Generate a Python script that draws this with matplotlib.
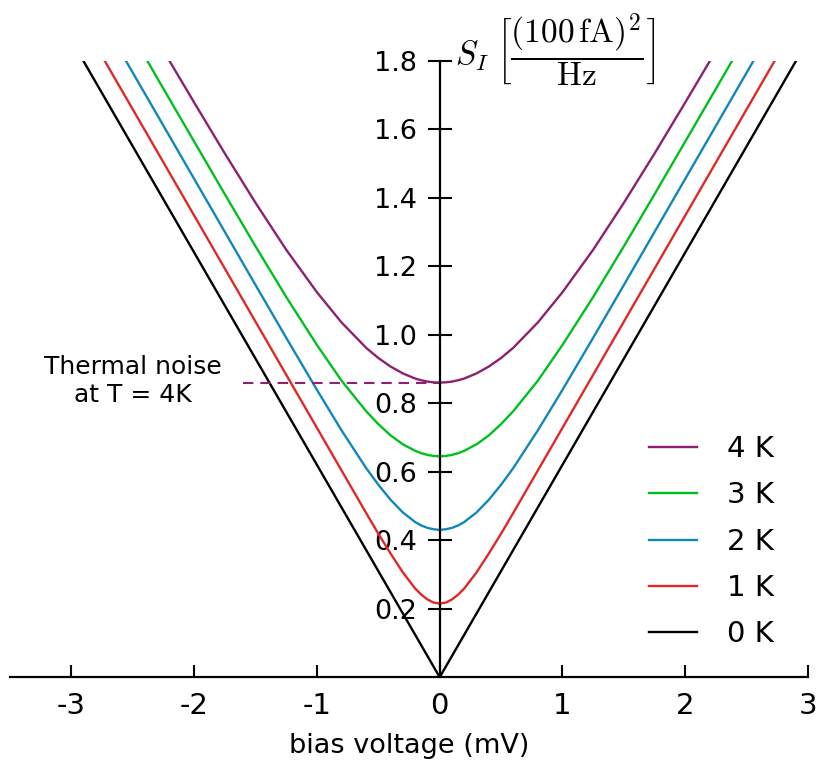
import matplotlib
matplotlib.use('Agg')
import matplotlib.pyplot as plt

# ---- data ----
bias_mv = [-3.0, -2.75, -2.5, -2.25, -2.0, -1.75, -1.5, -1.25, -1.0, -0.8, -0.6, -0.5,
           -0.4, -0.3, -0.2, -0.15, -0.1, -0.05, 0.0, 0.05, 0.1, 0.15, 0.2, 0.3, 0.4,
           0.5, 0.6, 0.8, 1.0, 1.25, 1.5, 1.75, 2.0, 2.25, 2.5, 2.75, 3.0]

s_0k = [1.86, 1.705, 1.55, 1.395, 1.24, 1.085, 0.93, 0.775, 0.62, 0.496, 0.372, 0.31,
        0.248, 0.186, 0.124, 0.093, 0.062, 0.031, 0.0, 0.031, 0.062, 0.093, 0.124, 0.186, 0.248,
        0.31, 0.372, 0.496, 0.62, 0.775, 0.93, 1.085, 1.24, 1.395, 1.55, 1.705, 1.86]

s_1k = [1.968, 1.813, 1.658, 1.503, 1.348, 1.193, 1.038, 0.883, 0.728, 0.604, 0.480, 0.419,
        0.361, 0.306, 0.259, 0.241, 0.227, 0.218, 0.215, 0.218, 0.227, 0.241, 0.259, 0.306, 0.361,
        0.419, 0.480, 0.604, 0.728, 0.883, 1.038, 1.193, 1.348, 1.503, 1.658, 1.813, 1.968]

s_2k = [2.075, 1.920, 1.765, 1.610, 1.455, 1.300, 1.145, 0.991, 0.839, 0.721, 0.611, 0.562,
        0.518, 0.481, 0.453, 0.443, 0.436, 0.432, 0.430, 0.432, 0.436, 0.443, 0.453, 0.481, 0.518,
        0.562, 0.611, 0.721, 0.839, 0.991, 1.145, 1.300, 1.455, 1.610, 1.765, 1.920, 2.075]

s_3k = [2.183, 2.028, 1.873, 1.718, 1.564, 1.410, 1.258, 1.110, 0.970, 0.866, 0.777, 0.739,
        0.706, 0.680, 0.661, 0.654, 0.649, 0.646, 0.645, 0.646, 0.649, 0.654, 0.661, 0.680, 0.706,
        0.739, 0.777, 0.866, 0.970, 1.110, 1.258, 1.410, 1.564, 1.718, 1.873, 2.028, 2.183]

s_4k = [2.290, 2.136, 1.982, 1.829, 1.678, 1.529, 1.385, 1.248, 1.124, 1.036, 0.962, 0.932,
        0.907, 0.887, 0.872, 0.867, 0.863, 0.861, 0.860, 0.861, 0.863, 0.867, 0.872, 0.887, 0.907,
        0.932, 0.962, 1.036, 1.124, 1.248, 1.385, 1.529, 1.678, 1.829, 1.982, 2.136, 2.290]

thermal_4k = 0.86
thermal_x = [-1.6, 0.0]

x_ticks = [-3, -2, -1, 0, 1, 2, 3]
x_tick_labels = ['-3', '-2', '-1', '0', '1', '2', '3']
y_ticks = [0.2, 0.4, 0.6, 0.8, 1.0, 1.2, 1.4, 1.6, 1.8]
y_tick_labels = ['0.2', '0.4', '0.6', '0.8', '1.0', '1.2', '1.4', '1.6', '1.8']

series = [('4 K', s_4k, '#8E2070'),
          ('3 K', s_3k, '#00C020'),
          ('2 K', s_2k, '#1187BC'),
          ('1 K', s_1k, '#E02828'),
          ('0 K', s_0k, '#000000')]

# ---- figure ----
plt.rcParams['font.family'] = ['DejaVu Sans']
plt.rcParams['mathtext.fontset'] = 'cm'

W, H = 818, 767
fig = plt.figure(figsize=(W / 100, H / 100), dpi=100)
ax = fig.add_axes([10 / W, 1 - 677.2 / H, 798 / W, 616.5 / H])

handles = []
for label, vals, col in series:
    ln, = ax.plot(bias_mv, vals, color=col, lw=1.7, label=label, solid_joinstyle='round')
    handles.append(ln)

ax.plot(thermal_x, [thermal_4k, thermal_4k], color='#8E2070', lw=1.5,
        ls=(0, (5, 3.3)))

ax.set_xlim(-3.5, 3.0)
ax.set_ylim(0, 1.8)

for s in ('top', 'right'):
    ax.spines[s].set_visible(False)
ax.spines['left'].set_position(('data', 0))
ax.spines['left'].set_linewidth(1.6)
ax.spines['bottom'].set_linewidth(1.6)

ax.set_xticks(x_ticks)
ax.set_xticklabels(x_tick_labels)
ax.set_yticks(y_ticks)
ax.set_yticklabels(y_tick_labels)
ax.tick_params(axis='x', direction='in', length=8.6, width=1.5, labelsize=21, pad=11)
ax.tick_params(axis='y', direction='inout', length=17.3, width=1.5, labelsize=19.5, pad=7.9)

ax.set_xlabel('bias voltage (mV)', fontsize=19.5, labelpad=9)

fig.text(455 / W, 1 - 50 / H,
         r'$S_I\ \left[\dfrac{(100\,\mathrm{fA})^2}{\mathrm{Hz}}\right]$',
         fontsize=24, ha='left', va='center')

fig.text(133 / W, 1 - 381 / H, 'Thermal noise\nat T = 4K', fontsize=18,
         ha='center', va='center', multialignment='center')

ax.legend(handles=handles, loc='upper left', bbox_to_anchor=(649 / W, 1 - 435 / H),
          bbox_transform=fig.transFigure, frameon=False, fontsize=21,
          handlelength=1.64, handletextpad=1.05, labelspacing=0.63,
          borderpad=0, borderaxespad=0)

fig.savefig('out.png', dpi=100)
